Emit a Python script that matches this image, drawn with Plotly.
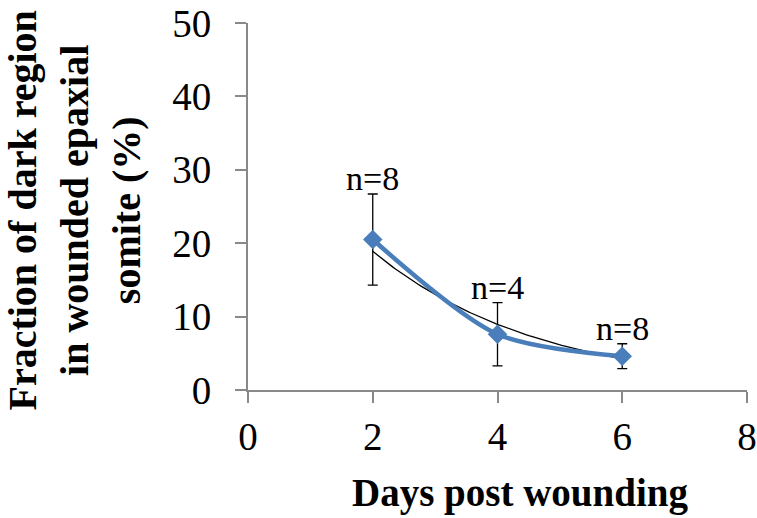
import numpy as np
import plotly.graph_objects as go

# Measured fraction of dark region per time point
days = [2, 4, 6]
fraction = [20.5, 7.6, 4.6]
err = [6.2, 4.3, 1.7]
n_labels = ["n=8", "n=4", "n=8"]

x_ticks = [0, 2, 4, 6, 8]
y_ticks = [0, 10, 20, 30, 40, 50]

FONT = "Liberation Serif, Times New Roman, serif"
BLUE = "#4A7EBB"
AXIS = "#898989"

# Exponential trendline fitted to the means
b, ln_a = np.polyfit(days, np.log(fraction), 1)
xt = np.linspace(min(days), max(days), 100)
yt = np.exp(ln_a + b * xt)

fig = go.Figure()
fig.add_trace(go.Scatter(
    x=xt, y=yt, mode="lines",
    line=dict(color="black", width=1.3),
    hoverinfo="skip", showlegend=False,
))
fig.add_trace(go.Scatter(
    x=days, y=fraction, mode="lines+markers",
    line=dict(color=BLUE, width=4.5, shape="spline", smoothing=0.8),
    marker=dict(symbol="diamond", size=15, color=BLUE),
    error_y=dict(type="data", array=err, visible=True,
                 color="black", thickness=1.3, width=5),
    showlegend=False,
))

for xv, yv, e, t in zip(days, fraction, err, n_labels):
    fig.add_annotation(
        x=xv, y=yv + e, text=t, showarrow=False,
        xanchor="center", yanchor="bottom", yshift=-5,
        font=dict(family=FONT, size=34, color="black"),
    )

fig.add_annotation(
    xref="paper", yref="paper", x=0, y=0.5, xshift=-174, yshift=-4,
    text="<b>Fraction of dark region<br>in wounded epaxial<br>somite (%)</b>",
    textangle=-90, showarrow=False, xanchor="center", yanchor="middle",
    font=dict(family=FONT, size=40, color="black"),
)
fig.add_annotation(
    xref="paper", yref="paper", x=0.5, y=0, xshift=22, yshift=-103,
    text="<b>Days post wounding</b>", showarrow=False,
    xanchor="center", yanchor="middle",
    font=dict(family=FONT, size=39, color="black"),
)

fig.update_xaxes(
    range=[0, 8], tickvals=x_ticks, showgrid=False, zeroline=False,
    showline=True, linecolor=AXIS, linewidth=2, automargin=False,
    ticks="outside", ticklen=11, tickcolor=AXIS, tickwidth=2,
    tickfont=dict(family=FONT, size=39, color="black"),
)
fig.update_yaxes(
    range=[0, 50], tickvals=y_ticks, showgrid=False, zeroline=False,
    showline=True, linecolor=AXIS, linewidth=2, automargin=False,
    ticks="outside", ticklen=11, tickcolor=AXIS, tickwidth=2,
    ticklabelstandoff=16,
    tickfont=dict(family=FONT, size=39, color="black"),
)
fig.update_layout(
    width=757, height=518,
    margin=dict(l=248, r=10, t=23, b=128, autoexpand=False),
    plot_bgcolor="white", paper_bgcolor="white",
)

fig.write_html("out.html")
